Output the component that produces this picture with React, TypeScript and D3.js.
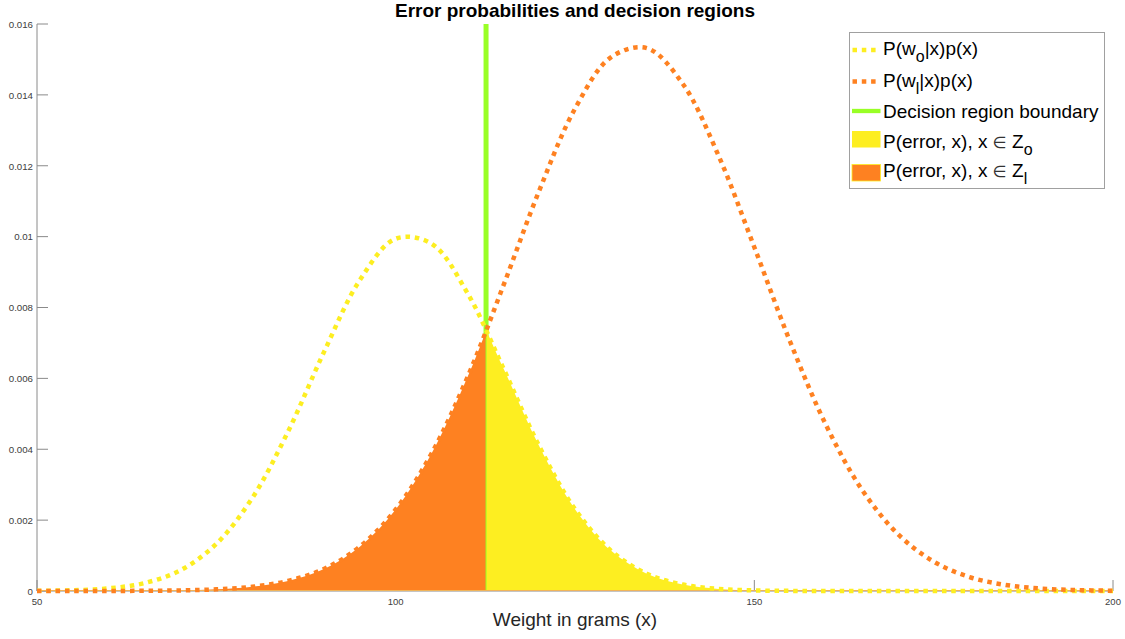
import React from 'react';
import * as d3 from 'd3';

// Weight grid (grams) on which the joint densities are tabulated
const weights = [
  50, 55, 60, 65, 70, 75, 80, 85, 90, 95, 100, 105, 110, 115, 120, 125, 130,
  135, 140, 145, 150, 155, 160, 165, 170, 175, 180, 185, 190, 195, 200,
];

// P(w0|x)p(x)
const jointW0 = [
  0.0000055, 0.0000217, 0.0000748, 0.000224, 0.000585, 0.00133, 0.00262,
  0.0045, 0.00674, 0.00877, 0.00994, 0.0098, 0.00841, 0.00629, 0.00409,
  0.00231, 0.00114, 0.000488, 0.000182, 0.0000591, 0.0000167, 0.0000041,
  0.0000009, 0.0000002, 0, 0, 0, 0, 0, 0, 0,
];

// P(w1|x)p(x)
const jointW1 = [
  0.0000001, 0.0000005, 0.0000016, 0.0000054, 0.0000166, 0.0000466, 0.00012,
  0.000285, 0.000622, 0.00125, 0.0023, 0.00388, 0.00603, 0.00861, 0.01129,
  0.01361, 0.01506, 0.01532, 0.01432, 0.01229, 0.0097, 0.00703, 0.00468,
  0.00286, 0.00161, 0.00083, 0.000394, 0.000172, 0.0000688, 0.0000253,
  0.0000085,
];

const decisionBoundary = 112.6;

const xTicks = [50, 100, 150, 200];
const yTicks = [0, 0.002, 0.004, 0.006, 0.008, 0.01, 0.012, 0.014, 0.016];

const title = 'Error probabilities and decision regions';
const xLabel = 'Weight in grams (x)';

const YELLOW = '#fdee21';
const ORANGE = '#fe8121';
const GREEN = '#99ff26';
const FONT = '"Liberation Sans", Arial, Helvetica, sans-serif';

const W = 1125;
const H = 639;

export default function App() {
  const x = d3.scaleLinear().domain([50, 200]).range([37, 1113]);
  const y = d3.scaleLinear().domain([0, 0.016]).range([591, 24]);

  const s0 = weights.map((w, i) => [w, jointW0[i]] as [number, number]);
  const s1 = weights.map((w, i) => [w, jointW1[i]] as [number, number]);

  const line = d3
    .line<[number, number]>()
    .x((d) => x(d[0]))
    .y((d) => y(Math.max(0, d[1])))
    .curve(d3.curveCatmullRom);

  const area = d3
    .area<[number, number]>()
    .x((d) => x(d[0]))
    .y0(y(0))
    .y1((d) => y(Math.max(0, d[1])))
    .curve(d3.curveCatmullRom);

  const bx = x(decisionBoundary);
  const dotted = { strokeWidth: 4.5, strokeDasharray: '4.5 4.8', fill: 'none' };

  const legendRows = [55, 86.5, 118, 148, 177];
  const subDy = 7;

  return (
    <svg
      width={W}
      height={H}
      style={{ position: 'absolute', left: 0, top: 0, background: '#fff' }}
      fontFamily={FONT}
    >
      <defs>
        <clipPath id="zone1">
          <rect x={x(50)} y={0} width={bx - 0.5 - x(50)} height={H} />
        </clipPath>
        <clipPath id="zone0">
          <rect x={bx + 0.5} y={0} width={x(200) - bx - 0.5} height={H} />
        </clipPath>
      </defs>

      {/* title */}
      <text x={575} y={17} textAnchor="middle" fontSize={19} fontWeight="bold" fill="#000">
        {title}
      </text>

      {/* y axis */}
      <line x1={x(50)} x2={x(50)} y1={y(0.016)} y2={y(0)} stroke="#8a8a8a" strokeWidth={1} />
      {yTicks.map((t) => (
        <g key={'y' + t}>
          <line x1={x(50)} x2={x(50) + 11} y1={y(t)} y2={y(t)} stroke="#8a8a8a" strokeWidth={1} />
          <text x={33} y={y(t) + 3.8} textAnchor="end" fontSize={9.7} fill="#404040">
            {d3.format('~g')(t)}
          </text>
        </g>
      ))}

      {/* x axis */}
      <line x1={x(50)} x2={x(200)} y1={y(0)} y2={y(0)} stroke="#8a8a8a" strokeWidth={1} />
      {xTicks.map((t) => (
        <g key={'x' + t}>
          <line x1={x(t)} x2={x(t)} y1={y(0)} y2={y(0) - 11} stroke="#8a8a8a" strokeWidth={1} />
          <text x={x(t)} y={605} textAnchor="middle" fontSize={9.5} fill="#404040">
            {t}
          </text>
        </g>
      ))}
      <text x={575} y={626} textAnchor="middle" fontSize={19} fill="#262626">
        {xLabel}
      </text>

      {/* decision boundary */}
      <line x1={bx} x2={bx} y1={y(0.016)} y2={y(0)} stroke={GREEN} strokeWidth={5} />

      {/* error regions */}
      <path d={area(s1) ?? ''} fill={ORANGE} clipPath="url(#zone1)" />
      <path d={area(s0) ?? ''} fill={YELLOW} clipPath="url(#zone0)" />
      <line x1={x(50)} x2={x(200)} y1={y(0) - 0.5} y2={y(0) - 0.5} stroke="#f0b45a" strokeWidth={1.2} />

      {/* joint densities */}
      <path d={line(s0) ?? ''} stroke={YELLOW} {...dotted} />
      <path d={line(s1) ?? ''} stroke={ORANGE} {...dotted} />

      {/* legend */}
      <g>
        <rect x={849.5} y={32.5} width={255} height={156} fill="#fff" stroke="#a0a0a0" strokeWidth={1} />
        <line x1={852.5} x2={880} y1={50} y2={50} stroke={YELLOW} {...dotted} />
        <line x1={852.5} x2={880} y1={81.5} y2={81.5} stroke={ORANGE} {...dotted} />
        <line x1={852} x2={880.5} y1={111} y2={111} stroke={GREEN} strokeWidth={4.3} />
        <rect x={852} y={131} width={28.5} height={16.5} fill={YELLOW} />
        <rect x={852} y={164.5} width={28.5} height={16.5} fill={ORANGE} stroke={YELLOW} strokeWidth={0.8} />

        <text x={883} y={legendRows[0]} fontSize={19} fill="#000">
          P(w<tspan fontSize={16} dy={subDy}>o</tspan>
          <tspan dy={-subDy}>|x)p(x)</tspan>
        </text>
        <text x={883} y={legendRows[1]} fontSize={19} fill="#000">
          P(w<tspan fontSize={16} dy={subDy}>l</tspan>
          <tspan dy={-subDy}>|x)p(x)</tspan>
        </text>
        <text x={883} y={legendRows[2]} fontSize={19} fill="#000">
          Decision region boundary
        </text>
        <text x={883} y={legendRows[3]} fontSize={19} fill="#000">
          P(error, x), x <tspan fontFamily='"DejaVu Sans", sans-serif' fontSize={16} fill="#333">∈</tspan> Z
          <tspan fontSize={16} dy={subDy}>o</tspan>
        </text>
        <text x={883} y={legendRows[4]} fontSize={19} fill="#000">
          P(error, x), x <tspan fontFamily='"DejaVu Sans", sans-serif' fontSize={16} fill="#333">∈</tspan> Z
          <tspan fontSize={16} dy={subDy}>l</tspan>
        </text>
      </g>
    </svg>
  );
}
